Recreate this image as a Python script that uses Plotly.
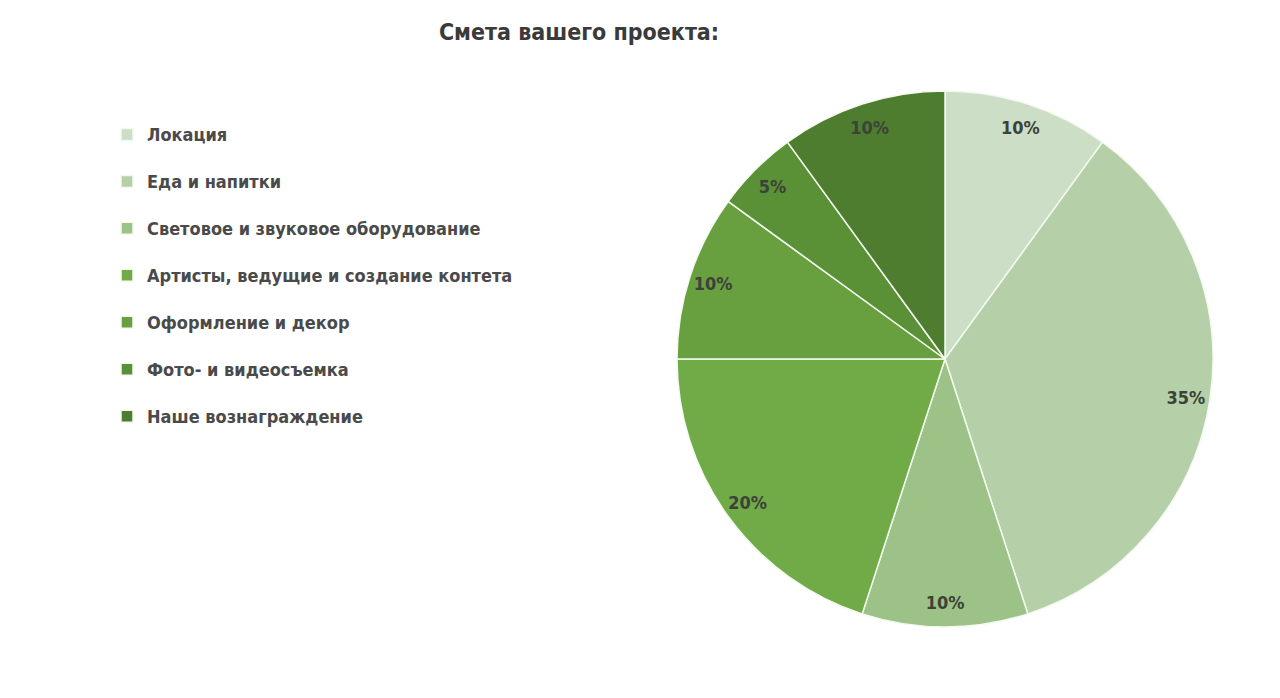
import plotly.graph_objects as go

# budget categories and shares (%)
labels = ['Локация',
          'Еда и напитки',
          'Световое и звуковое оборудование',
          'Артисты, ведущие и создание контета',
          'Оформление и декор',
          'Фото- и видеосъемка',
          'Наше вознаграждение']
shares = [10, 35, 10, 20, 10, 5, 10]
colors = ['#CCDEC5', '#B5D0A8', '#9CC288', '#70AB47', '#68A040', '#5A9136', '#4E7D30']

font_name = 'Liberation Sans Narrow, DejaVu Sans Condensed, Roboto, sans-serif'

# legend rows get an extra blank line so they are spaced like the original
legend_text = [f'<span style="font-size:18px">{t}</span><br>\u00a0' for t in labels]

pie_domain = dict(x=[669 / 1280, 1205 / 1280], y=[1 - 619 / 698, 1 - 83 / 698])

fig = go.Figure()
# coloured slices + legend
fig.add_trace(go.Pie(labels=legend_text,
                     values=shares,
                     sort=False,
                     direction='clockwise',
                     rotation=0,
                     marker=dict(colors=colors, line=dict(color='#F4FAF0', width=1.5)),
                     textinfo='none',
                     domain=pie_domain,
                     hoverinfo='label+percent'))

# percentage labels placed near the rim (transparent donut on top)
fig.add_trace(go.Pie(labels=labels,
                     values=shares,
                     sort=False,
                     direction='clockwise',
                     rotation=0,
                     hole=0.82,
                     marker=dict(colors=['rgba(0,0,0,0)'] * len(shares), line=dict(width=0)),
                     textinfo='percent',
                     textposition='inside',
                     insidetextorientation='horizontal',
                     textfont=dict(family=font_name, size=18, color='#3C4238', weight='bold'),
                     domain=pie_domain,
                     showlegend=False,
                     hoverinfo='skip'))

fig.update_layout(width=1280, height=698,
                  margin=dict(l=0, r=0, t=0, b=0),
                  paper_bgcolor='white', plot_bgcolor='white',
                  font=dict(family=font_name, color='#444444'),
                  title=dict(text='<b>Смета вашего проекта:</b>', x=571 / 1280, xanchor='center',
                             y=1 - 24 / 698, yanchor='middle',
                             font=dict(family=font_name, size=23, color='#3A3A3A')),
                  legend=dict(x=99 / 1280, xanchor='left', y=1 - 109 / 698, yanchor='top',
                              valign='top',
                              font=dict(family=font_name, size=16.9, color='#4A4A4A', weight='bold'),
                              bgcolor='rgba(0,0,0,0)'))

fig.write_html('out.html')
